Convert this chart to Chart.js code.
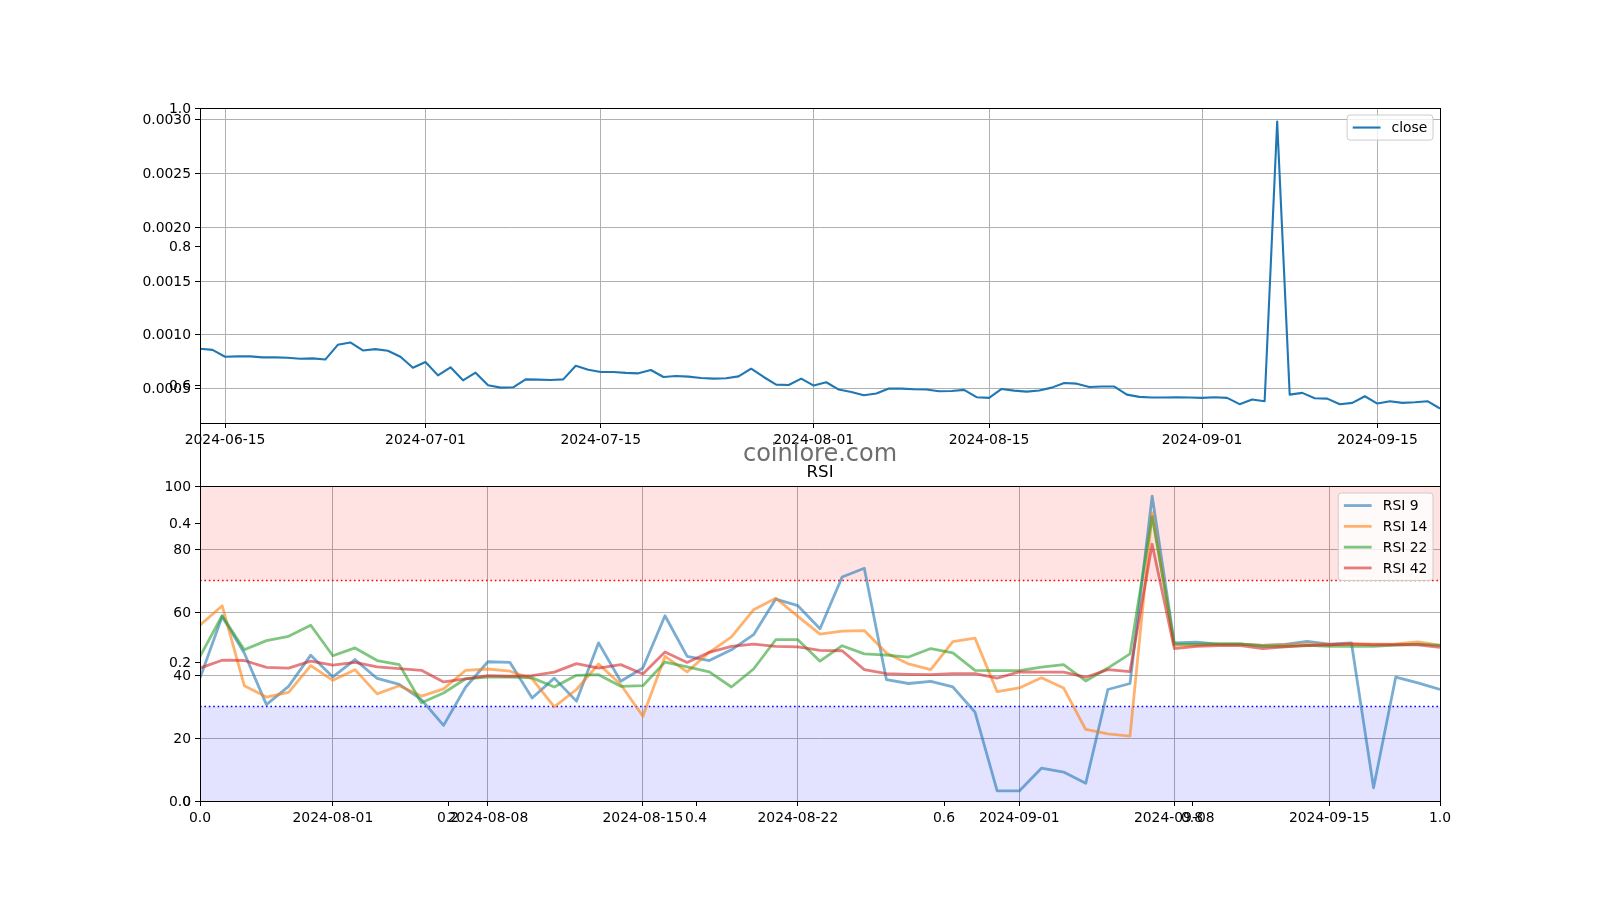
<!DOCTYPE html>
<html>
<head>
<meta charset="utf-8">
<title>close / RSI</title>
<script src="https://cdn.jsdelivr.net/npm/chart.js@4.4.0/dist/chart.umd.min.js"></script>
<style>
  html, body { margin: 0; padding: 0; background: #fff; }
  #wrap { position: relative; width: 1600px; height: 900px; }
  #wrap canvas { position: absolute; left: 0; top: 0; }
</style>
</head>
<body>
<div id="wrap">
  <canvas id="frame" width="1600" height="900"></canvas>
  <canvas id="price" width="1600" height="900"></canvas>
  <canvas id="rsi" width="1600" height="900"></canvas>
</div>
<script>
// Daily close, one value per day starting at closeStart.
const closeStart = '2024-06-13';
const closeValues = [
  0.00087, 0.00086, 0.000796, 0.0008, 0.0008, 0.00079, 0.00079, 0.000787, 0.000778, 0.000781,
  0.00077, 0.000907, 0.000929, 0.000855, 0.000867, 0.000852, 0.000796, 0.000694, 0.000747, 0.000623,
  0.000698, 0.000577, 0.000648, 0.000531, 0.000509, 0.000512, 0.000586, 0.000583, 0.00058, 0.000586,
  0.000713, 0.000676, 0.000654, 0.000654, 0.000646, 0.000642, 0.000673, 0.000608, 0.000617, 0.000611,
  0.000599, 0.000593, 0.000596, 0.000614, 0.000685, 0.000608, 0.000537, 0.000534, 0.000593, 0.000528,
  0.000559, 0.000491, 0.000469, 0.000438, 0.000454, 0.0005, 0.0005, 0.000494, 0.000491, 0.000475,
  0.000478, 0.000488, 0.00042, 0.000414, 0.000497, 0.000481, 0.000472, 0.000483, 0.000509, 0.000552,
  0.000546, 0.000515, 0.000519, 0.000519, 0.000444, 0.000423, 0.000417, 0.000417, 0.00042, 0.000417,
  0.000414, 0.00042, 0.000414, 0.000355, 0.000398, 0.000383, 0.002984, 0.000444, 0.00046, 0.00041,
  0.000407, 0.000355, 0.000367, 0.000429, 0.000361, 0.000383, 0.000367, 0.000373, 0.000383, 0.000315,
];
const closeTickDates = ['2024-06-15', '2024-07-01', '2024-07-15', '2024-08-01', '2024-08-15', '2024-09-01', '2024-09-15'];
const closeTicks = [0.0005, 0.001, 0.0015, 0.002, 0.0025, 0.003];
const closeRange = [0.00018, 0.00311];

// RSI series, one value per day starting at rsiStart.
const rsiStart = '2024-07-26';
const rsi9 = [
  39, 58.6, 47, 30.6, 36.4, 46.3, 39.4, 44.9, 38.9, 37,
  32.2, 24, 36.2, 44.2, 44, 32.7, 39, 31.7, 50.2, 38,
  42.2, 58.8, 45.9, 44.6, 48, 52.8, 64.1, 62, 54.7, 71.1,
  73.9, 38.5, 37.3, 38, 36.2, 28.2, 3.2, 3.2, 10.4, 9.2,
  5.6, 35.4, 37.3, 96.8, 50.2, 50.4, 49.8, 49.8, 49.4, 49.7,
  50.7, 49.8, 50.2, 4.2, 39.3, 37.5, 35.4,
];
const rsi14 = [
  55.8, 62, 36.6, 33, 34.5, 43, 38.3, 41.7, 34, 36.6,
  33.3, 35.6, 41.5, 41.9, 41.2, 38.8, 29.9, 35.4, 43.5, 37,
  26.9, 45.9, 41, 47.2, 52.1, 60.7, 64.4, 58.6, 53, 53.9,
  54.1, 47, 43.5, 41.7, 50.6, 51.7, 34.7, 35.9, 39.1, 35.9,
  22.7, 21.3, 20.6, 91.5, 49.4, 49.5, 49.8, 49.8, 49.4, 49.6,
  49.9, 49.6, 49.9, 49.8, 49.9, 50.5, 49.5,
];
const rsi22 = [
  45.9, 58.8, 48, 50.9, 52.3, 55.8, 46.1, 48.6, 44.6, 43.3,
  31.2, 34.3, 38.8, 39.3, 39.3, 39.1, 36.2, 39.9, 40.1, 36.4,
  36.6, 44.1, 42.6, 41, 36.2, 41.9, 51.2, 51.2, 44.4, 49.3,
  46.7, 46.3, 45.7, 48.4, 47, 41.5, 41.4, 41.4, 42.5, 43.3,
  38.1, 42.2, 46.7, 90.3, 49.8, 49.8, 49.9, 49.9, 49.1, 49.1,
  49.4, 49.1, 49.1, 49.1, 49.5, 49.8, 49.4,
];
const rsi42 = [
  42.2, 44.7, 44.6, 42.4, 42.2, 44.4, 43.1, 44, 42.6, 42,
  41.5, 37.8, 38.8, 39.8, 39.6, 39.8, 40.9, 43.6, 42.2, 43.3,
  40.3, 47.3, 44, 47.2, 49.1, 49.8, 49.1, 48.9, 47.8, 47.7,
  41.7, 40.4, 40.2, 40.1, 40.4, 40.4, 39, 41, 40.9, 40.9,
  39.3, 41.7, 41.1, 81.5, 48.4, 49.1, 49.3, 49.3, 48.4, 48.9,
  49.3, 49.6, 49.9, 49.6, 49.6, 49.6, 48.8,
];
const rsiTickDates = ['2024-08-01', '2024-08-08', '2024-08-15', '2024-08-22', '2024-09-01', '2024-09-08', '2024-09-15'];
const rsiTicks = [0, 20, 40, 60, 80, 100];
const overbought = 70;
const oversold = 30;

// The figure-wide 0..1 axes behind both panels.
const frameTicks = [0, 0.2, 0.4, 0.6, 0.8, 1];

const PLOT_LEFT = 200;
const PLOT_RIGHT = 1440;
const PRICE_TOP = 108;
const PRICE_BOTTOM = 423;
const RSI_TOP = 486;
const RSI_BOTTOM = 801;
const AXIS_W = 60;
const AXIS_H = 40;
const GRID = '#b0b0b0';
const FONT = 'DejaVu Sans';

Chart.defaults.font.family = FONT;
Chart.defaults.font.size = 13.9;
Chart.defaults.color = '#000';

function daysBetween(from, to) {
  return Math.round((Date.parse(to) - Date.parse(from)) / 86400000);
}

function toPoints(values) {
  return values.map((y, x) => ({ x, y }));
}

function padding(top, bottom) {
  return { left: PLOT_LEFT - AXIS_W, right: 1600 - PLOT_RIGHT, top, bottom: 900 - bottom - AXIS_H };
}

function scale(horizontal, min, max, ticks, label, onArea = true) {
  return {
    type: 'linear',
    min,
    max,
    afterBuildTicks: (s) => { s.ticks = ticks.map((value) => ({ value })); },
    afterFit: (s) => { if (horizontal) s.height = AXIS_H; else s.width = AXIS_W; },
    grid: { color: GRID, lineWidth: 1, drawOnChartArea: onArea, tickLength: 5, tickColor: '#000', tickWidth: 1 },
    border: { color: '#000', width: 1 },
    ticks: {
      color: '#000',
      padding: 4,
      labelOffset: horizontal ? 0 : 1,
      autoSkip: false,
      maxRotation: 0,
      minRotation: 0,
      callback: label,
    },
  };
}

function dateLabels(start, dates) {
  const byDay = {};
  dates.forEach((date) => { byDay[daysBetween(start, date)] = date; });
  return { days: Object.keys(byDay).map(Number), label: (value) => byDay[value] ?? '' };
}

// Matplotlib draws a box on all four sides of each axes.
const framePlugin = {
  id: 'frameBox',
  afterDraw(chart) {
    const { ctx, chartArea: a } = chart;
    ctx.save();
    ctx.strokeStyle = '#000';
    ctx.lineWidth = 1;
    ctx.strokeRect(a.left + 0.5, a.top + 0.5, a.right - a.left, a.bottom - a.top);
    ctx.restore();
  },
};

const boxLegend = {
  id: 'boxLegend',
  afterDraw(chart) {
    const items = chart.data.datasets.filter((d) => d.label);
    if (!items.length) return;
    const { ctx, chartArea: a } = chart;
    const fs = 13.9, pad = 5.6, handle = 27.8, gap = 11.1, spacing = 6.9;
    ctx.save();
    ctx.font = `${fs}px "${FONT}"`;
    const textW = Math.max(...items.map((d) => ctx.measureText(d.label).width));
    const w = pad + handle + gap + textW + pad;
    const h = pad * 2 + items.length * fs + (items.length - 1) * spacing;
    const x = a.right - 7 - w;
    const y = a.top + 7;
    ctx.beginPath();
    ctx.roundRect(x, y, w, h, 3);
    ctx.fillStyle = 'rgba(255,255,255,0.8)';
    ctx.fill();
    ctx.strokeStyle = '#cccccc';
    ctx.lineWidth = 1;
    ctx.stroke();
    items.forEach((d, i) => {
      const cy = y + pad + fs / 2 + i * (fs + spacing);
      ctx.beginPath();
      ctx.moveTo(x + pad, cy);
      ctx.lineTo(x + pad + handle, cy);
      ctx.strokeStyle = d.borderColor;
      ctx.lineWidth = d.borderWidth;
      ctx.stroke();
      ctx.fillStyle = '#000';
      ctx.textBaseline = 'middle';
      ctx.textAlign = 'left';
      ctx.fillText(d.label, x + pad + handle + gap, cy + 1);
    });
    ctx.restore();
  },
};

const captions = {
  id: 'captions',
  afterDraw(chart) {
    const { ctx, chartArea: a } = chart;
    const cx = (a.left + a.right) / 2;
    ctx.save();
    ctx.textAlign = 'center';
    ctx.textBaseline = 'alphabetic';
    ctx.fillStyle = '#6e6e6e';
    ctx.font = `24px "${FONT}"`;
    ctx.fillText('coinlore.com', cx, a.top - 25);
    ctx.fillStyle = '#000';
    ctx.font = `16.7px "${FONT}"`;
    ctx.fillText('RSI', cx, a.top - 9);
    ctx.restore();
  },
};

const baseOptions = {
  responsive: false,
  devicePixelRatio: 1,
  animation: false,
  events: [],
  elements: { point: { radius: 0 }, line: { tension: 0, borderJoinStyle: 'round' } },
  plugins: { legend: { display: false }, tooltip: { enabled: false } },
};

function renderFrame() {
  const label = (value) => value.toFixed(1);
  new Chart(document.getElementById('frame'), {
    type: 'line',
    data: { datasets: [] },
    options: {
      ...baseOptions,
      layout: { padding: padding(PRICE_TOP, RSI_BOTTOM) },
      scales: {
        x: scale(true, 0, 1, frameTicks, label, false),
        y: scale(false, 0, 1, frameTicks, label, false),
      },
    },
    plugins: [framePlugin],
  });
}

function renderPrice() {
  const dates = dateLabels(closeStart, closeTickDates);
  new Chart(document.getElementById('price'), {
    type: 'line',
    data: {
      datasets: [{
        label: 'close',
        data: toPoints(closeValues),
        borderColor: '#1f77b4',
        borderWidth: 2.1,
      }],
    },
    options: {
      ...baseOptions,
      layout: { padding: padding(PRICE_TOP, PRICE_BOTTOM) },
      scales: {
        x: scale(true, 0, closeValues.length - 1, dates.days, dates.label),
        y: scale(false, closeRange[0], closeRange[1], closeTicks, (value) => value.toFixed(4)),
      },
    },
    plugins: [framePlugin, boxLegend],
  });
}

function renderRSI() {
  const dates = dateLabels(rsiStart, rsiTickDates);
  const last = rsi9.length - 1;
  const level = (y) => [{ x: 0, y }, { x: last, y }];
  const series = [
    ['RSI 9', rsi9, 'rgba(31,119,180,0.6)'],
    ['RSI 14', rsi14, 'rgba(255,127,14,0.6)'],
    ['RSI 22', rsi22, 'rgba(44,160,44,0.6)'],
    ['RSI 42', rsi42, 'rgba(214,39,40,0.6)'],
  ];

  new Chart(document.getElementById('rsi'), {
    type: 'line',
    data: {
      datasets: [
        ...series.map(([label, values, color], i) => ({
          label,
          data: toPoints(values),
          borderColor: color,
          borderWidth: 2.8,
          order: series.length - i,
        })),
        { data: level(100), fill: { value: overbought }, backgroundColor: 'rgba(255,0,0,0.11)', borderWidth: 0, order: 20 },
        { data: level(oversold), fill: 'origin', backgroundColor: 'rgba(0,0,255,0.11)', borderWidth: 0, order: 20 },
        { data: level(overbought), borderColor: 'red', borderWidth: 1.6, borderDash: [1.6, 2.8], order: 10 },
        { data: level(oversold), borderColor: 'blue', borderWidth: 1.6, borderDash: [1.6, 2.8], order: 10 },
      ],
    },
    options: {
      ...baseOptions,
      layout: { padding: padding(RSI_TOP, RSI_BOTTOM) },
      scales: {
        x: scale(true, 0, last, dates.days, dates.label),
        y: scale(false, 0, 100, rsiTicks, (value) => String(value)),
      },
    },
    plugins: [framePlugin, boxLegend, captions],
  });
}

renderFrame();
renderPrice();
renderRSI();
</script>
</body>
</html>
